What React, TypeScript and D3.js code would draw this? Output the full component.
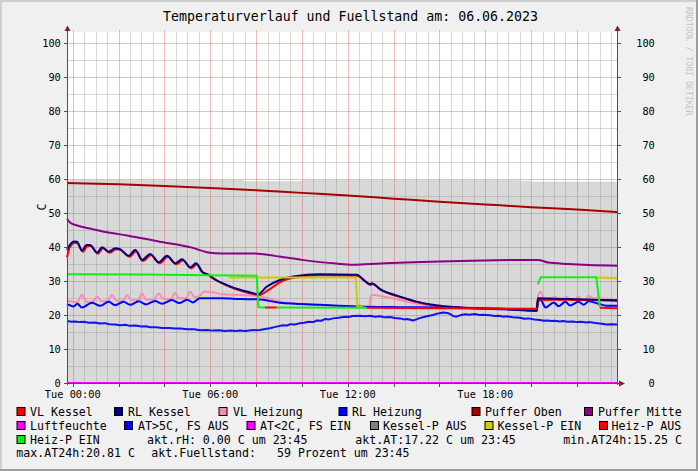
import React, { useEffect } from "react";
import * as d3 from "d3";

type P = [number, number];

const T_START = -0.25;
const T_END = 23.75;
const Y_MAX = 103.2;

const title = "Temperaturverlauf und Fuellstand am: 06.06.2023";
const yAxisLabel = "C";
const watermark = "RRDTOOL / TOBI OETIKER";
const xTickHours = [0, 6, 12, 18];
const xTickLabels = ["Tue 00:00", "Tue 06:00", "Tue 12:00", "Tue 18:00"];
const yTickValues = [0, 10, 20, 30, 40, 50, 60, 70, 80, 90, 100];

const fuellstand: P[] = [
  [-0.25, 59.7], [7.4, 59.7], [7.45, 59.3], [9.6, 59.4], [10.0, 59.7], [16.0, 59.7],
  [19.5, 59.5], [20.0, 59.2], [23.75, 59.2],
];

const pufferOben: P[] = [
  [-0.25, 58.8], [2, 58.4], [4, 57.9], [6, 57.3], [8, 56.7], [10, 55.9], [12, 55.1],
  [14, 54.2], [16, 53.3], [18, 52.5], [20, 51.7], [22, 51.0], [23.75, 50.3],
];

const pufferMitte: P[] = [
  [-0.25, 48.3], [-0.12, 47.2], [0.2, 46.3], [0.84, 45.3], [1.5, 44.3], [2.37, 43.4],
  [3.75, 41.6], [5.2, 39.8], [5.9, 38.4], [6.5, 38.1], [7.9, 38.1], [8.2, 37.9],
  [9.0, 37.2], [10.0, 36.2], [11.5, 35.1], [12.2, 34.8], [13.0, 35.0], [14.5, 35.4],
  [16.0, 35.7], [18.0, 36.0], [20.0, 36.2], [20.3, 36.2], [20.75, 35.4], [21.6, 35.0],
  [22.5, 34.7], [23.75, 34.5],
];

const rlKessel: P[] = [
  [-0.25, 39.1], [-0.1, 40.8], [0.04, 41.6], [0.19, 41.5], [0.4, 38.9], [0.6, 40.6],
  [0.75, 40.6], [1.06, 38.3], [1.28, 39.9], [1.57, 38.6], [1.85, 39.6], [2.05, 39.4],
  [2.44, 37.4], [2.73, 39.1], [3.02, 36.2], [3.38, 37.9], [3.75, 35.5], [4.11, 37.4],
  [4.48, 35.2], [4.77, 36.4], [5.13, 34.0], [5.38, 35.2], [5.64, 32.7], [5.93, 31.8],
  [6.13, 30.8], [6.72, 28.8], [7.3, 27.4], [7.88, 26.4], [8.08, 26.1], [8.46, 28.3],
  [9.04, 30.3], [9.62, 31.3], [10.79, 32.0], [12.39, 31.8], [12.75, 30.0], [12.97, 29.0],
  [13.05, 29.3], [13.41, 27.6], [14.28, 25.4], [15.15, 23.7], [16.03, 22.7], [16.9, 22.2],
  [17.77, 21.9], [18.64, 21.7], [19.52, 21.5], [20.25, 21.3], [20.3, 24.9], [21.0, 24.8],
  [22.0, 24.6], [23.0, 24.4], [23.75, 24.3],
];

const vlKessel: P[] = [
  [-0.25, 37.0], [-0.12, 40.0], [0.08, 41.2], [0.22, 41.0], [0.45, 38.6], [0.65, 40.3],
  [0.8, 40.3], [1.1, 38.0], [1.32, 39.6], [1.62, 38.3], [1.9, 39.3], [2.1, 39.1],
  [2.48, 37.1], [2.77, 38.8], [3.06, 35.9], [3.42, 37.6], [3.79, 35.2], [4.15, 37.1],
  [4.52, 34.9], [4.81, 36.1], [5.17, 33.7], [5.42, 34.9], [5.68, 32.5], [5.97, 31.6],
  [6.17, 30.6], [6.76, 28.6], [7.34, 27.1], [7.92, 26.1], [8.15, 25.9], [8.55, 27.4],
  [9.1, 29.8], [9.7, 31.0], [10.8, 31.7], [12.39, 31.5], [12.78, 29.8], [13.0, 28.8],
  [13.08, 29.1], [13.45, 27.4], [14.32, 25.2], [15.2, 23.5], [16.05, 22.5], [16.9, 22.1],
  [17.8, 21.9], [18.6, 21.8], [19.5, 21.7], [20.25, 21.7], [20.3, 24.5], [21.0, 24.5],
  [22.0, 24.4], [23.0, 24.3], [23.75, 24.2],
];

const vlHeizung: P[] = [
  [-0.25, 24.2], [0.2, 23.8], [0.4, 25.9], [0.6, 23.8], [0.9, 24.0], [1.06, 25.4],
  [1.25, 24.0], [1.55, 24.1], [1.71, 25.9], [1.9, 24.2], [2.2, 24.2], [2.37, 25.9],
  [2.55, 24.3], [2.85, 24.4], [3.02, 26.3], [3.2, 24.5], [3.55, 24.6], [3.75, 26.3],
  [3.95, 24.7], [4.3, 24.8], [4.46, 26.5], [4.65, 24.9], [4.95, 25.0], [5.13, 26.8],
  [5.32, 25.3], [5.55, 25.6], [5.72, 26.9], [6.1, 26.7], [6.51, 26.1], [7.3, 25.9],
  [7.88, 25.7], [8.1, 25.6], [9.04, 23.9], [10.79, 22.9], [12.4, 22.4], [12.95, 22.4],
  [13.0, 25.7], [13.2, 25.9], [13.41, 25.6], [14.28, 24.4], [15.15, 23.2], [16.03, 22.4],
  [16.9, 22.2], [18.64, 22.0], [20.25, 21.8], [20.28, 24.9], [20.42, 26.9], [20.6, 24.1],
  [20.9, 24.3], [21.03, 25.4], [21.2, 24.3], [21.4, 24.3], [21.55, 25.4], [21.72, 24.3],
  [21.9, 24.3], [22.05, 25.4], [22.22, 24.4], [22.4, 24.5], [22.5, 25.6], [22.7, 24.9],
  [22.95, 24.9], [23.75, 23.9],
];

const rlHeizung: P[] = [
  [-0.25, 23.2], [-0.1, 22.8], [0.04, 22.5], [0.2, 23.3], [0.4, 22.2], [0.84, 23.6],
  [1.2, 22.7], [1.57, 23.9], [1.85, 22.9], [2.22, 23.9], [2.5, 23.0], [2.88, 24.0],
  [3.2, 23.1], [3.59, 24.1], [3.9, 23.3], [4.33, 24.4], [4.65, 23.5], [4.99, 24.5],
  [5.25, 23.7], [5.55, 24.9], [6.0, 24.9], [6.51, 24.9], [7.3, 24.7], [8.08, 24.6],
  [9.04, 23.6], [10.79, 23.0], [12.39, 22.5], [14.28, 22.3], [16.03, 22.2], [18.64, 21.8],
  [20.25, 21.2], [20.3, 23.9], [20.42, 24.4], [20.63, 22.2], [20.99, 23.7], [21.2, 22.6],
  [21.5, 23.9], [21.7, 22.8], [22.07, 23.9], [22.3, 23.0], [22.5, 24.0], [22.9, 23.4],
  [23.3, 22.7], [23.75, 22.7],
];

const aussenTemp: P[] = [
  [-0.25, 18.2], [-0.05, 18.0], [0.1, 18.1], [0.32, 17.9], [0.5, 18.0], [0.7, 17.7],
  [0.95, 17.8], [1.19, 17.5], [1.4, 17.6], [1.6, 17.3], [1.85, 17.2], [2.06, 17.0],
  [2.3, 17.1], [2.5, 16.8], [2.75, 16.9], [3.0, 16.6], [3.2, 16.7], [3.37, 16.4],
  [3.65, 16.4], [3.9, 16.2], [4.2, 16.2], [4.46, 16.0], [4.7, 16.0], [5.0, 15.8],
  [5.3, 15.8], [5.55, 15.5], [5.85, 15.6], [6.1, 15.4], [6.4, 15.5], [6.64, 15.3],
  [6.9, 15.4], [7.1, 15.3], [7.3, 15.4], [7.52, 15.3], [7.8, 15.5], [8.17, 15.6],
  [8.4, 15.9], [8.6, 16.1], [8.85, 16.5], [9.17, 17.0], [9.35, 16.9], [9.5, 17.3],
  [9.7, 17.2], [9.92, 17.6], [10.1, 17.7], [10.3, 18.0], [10.5, 17.9], [10.65, 18.4],
  [10.85, 18.3], [11.0, 18.8], [11.2, 18.7], [11.36, 19.0], [11.6, 19.2], [11.88, 19.5],
  [12.05, 19.4], [12.2, 19.7], [12.54, 19.8], [12.75, 19.6], [12.97, 19.8], [13.2, 19.5],
  [13.41, 19.6], [13.6, 19.3], [13.84, 19.4], [14.05, 19.1], [14.28, 19.0], [14.45, 18.7],
  [14.6, 18.8], [14.85, 18.4], [15.0, 18.7], [15.1, 19.0], [15.37, 19.5], [15.55, 19.8],
  [15.72, 20.0], [15.9, 20.4], [16.0, 20.5], [16.16, 20.7], [16.35, 20.6], [16.46, 20.3],
  [16.6, 19.7], [16.75, 19.5], [16.9, 19.9], [17.12, 20.2], [17.3, 20.1], [17.55, 20.3],
  [17.75, 20.0], [17.9, 20.1], [18.21, 19.9], [18.4, 19.7], [18.6, 19.8], [18.8, 19.5],
  [18.94, 19.6], [19.2, 19.3], [19.52, 19.2], [19.7, 18.9], [19.9, 19.0], [20.15, 18.7],
  [20.39, 18.5], [20.55, 18.3], [20.7, 18.4], [20.9, 18.2], [21.04, 18.3], [21.25, 18.1],
  [21.4, 18.2], [21.6, 18.0], [21.83, 18.1], [22.0, 17.9], [22.2, 18.0], [22.4, 17.8],
  [22.57, 17.9], [22.75, 17.7], [22.9, 17.6], [23.1, 17.4], [23.3, 17.2], [23.5, 17.3],
  [23.75, 17.2],
];

const luftfeuchte: P[] = [[-0.25, 0], [23.75, 0]];

const kesselPEin: P[][] = [
  [[6.8, 31.0], [12.35, 31.0], [12.42, 22.4], [12.7, 22.3]],
  [[22.85, 31.0], [23.75, 30.9]],
];

const heizPEin: P[][] = [
  [[-0.25, 32.0], [3, 31.9], [6, 31.7], [8.03, 31.5], [8.1, 22.3], [8.39, 22.2]],
  [[8.9, 22.2], [12.83, 22.1]],
  [[20.29, 29.0], [20.42, 31.1], [22.85, 31.1], [23.0, 22.3]],
];

const heizPAus: P[][] = [
  [[8.39, 22.2], [8.9, 22.2]],
  [[12.83, 22.1], [16.0, 22.0], [20.27, 21.8]],
  [[23.0, 22.1], [23.75, 22.0]],
];

const legendRow1 = ["VL Kessel", "RL Kessel", "VL Heizung", "RL Heizung", "Puffer Oben", "Puffer Mitte"];
const legendRow1Colors = ["#ff0000", "#000080", "#fa8cac", "#0000ff", "#a80000", "#880088"];
const legendRow1Box = [16.5, 114, 218.5, 338.5, 471.5, 584];
const legendRow1Text = [30, 128, 233, 352, 485, 598];

const legendRow2 = ["Luftfeuchte", "AT>5C, FS AUS", "AT<2C, FS EIN", "Kessel-P AUS", "Kessel-P EIN", "Heiz-P AUS"];
const legendRow2Colors = ["#ff00ff", "#0000ff", "#ff00ff", "#808080", "#cccc00", "#ff0000"];
const legendRow2Box = [16.5, 124, 246.5, 370, 484.5, 599];
const legendRow2Text = [30, 138, 260, 383, 497.5, 611.5];

const legendRow3Label = "Heiz-P EIN";
const legendRow3Color = "#10f010";
const infoRow3 = ["akt.rH: 0.00 C um 23:45", "akt.AT:17.22 C um 23:45", "min.AT24h:15.25 C"];
const infoRow3X = [147, 355.3, 563.3];
const infoRow4 = ["max.AT24h:20.81 C", "akt.Fuellstand:   59 Prozent um 23:45"];
const infoRow4X = [16.3, 151.3];

const MONO = "'DejaVu Sans Mono', monospace";

export default function App() {
  useEffect(() => {
    document.body.style.margin = "0";
  }, []);

  const W = 698;
  const H = 471;
  const x = d3.scaleLinear().domain([T_START, T_END]).range([67, 617]);
  const y = d3.scaleLinear().domain([0, Y_MAX]).range([383, 32]);

  const smooth = d3.line<P>().x((d) => x(d[0])).y((d) => y(d[1])).curve(d3.curveMonotoneX);
  const straight = d3.line<P>().x((d) => x(d[0])).y((d) => y(d[1]));
  const area = d3
    .area<P>()
    .x((d) => x(d[0]))
    .y0(y(0))
    .y1((d) => y(d[1]))
    .curve(d3.curveStepAfter);

  const yMinor = d3.range(5, 101, 10);
  const xMinor = d3.range(0, T_END, 0.5).filter((h) => h % 2 !== 0);
  const xMajor = d3.range(0, T_END, 2);

  const px = (v: number) => Math.round(v) + 0.5;

  const gridMinor = "rgba(143,143,143,0.35)";
  const gridMajor = "rgba(222,80,80,0.38)";
  const arrow = "#801f1f";
  const axis = "#505050";

  const lineProps = { fill: "none", strokeWidth: 2, strokeLinejoin: "round" as const, strokeLinecap: "butt" as const };

  return (
    <svg
      width={W}
      height={H}
      style={{ position: "absolute", left: 0, top: 0, display: "block" }}
      fontFamily={MONO}
    >
      <rect x={0} y={0} width={W} height={H} fill="#f0f0f0" />
      <rect x={0} y={0} width={W} height={2} fill="#cfcfcf" />
      <rect x={0} y={0} width={2} height={H} fill="#cfcfcf" />
      <rect x={0} y={H - 2} width={W} height={2} fill="#9e9e9e" />
      <rect x={W - 2} y={0} width={2} height={H} fill="#9e9e9e" />

      <text x={350.5} y={21} textAnchor="middle" fontSize={13.25} fill="#000">
        {title}
      </text>

      <text transform="translate(685.5,7) rotate(90)" fontSize={8.2} fill="#c4c4c4">
        {watermark}
      </text>

      <rect x={67} y={32} width={550} height={351} fill="#ffffff" />
      <path d={area(fuellstand) || ""} fill="#d8d8d8" />

      {yMinor.map((v) => (
        <line key={"ym" + v} x1={67} x2={617} y1={px(y(v))} y2={px(y(v))} stroke={gridMinor} />
      ))}
      {xMinor.map((h) => (
        <line key={"xm" + h} x1={px(x(h))} x2={px(x(h))} y1={32} y2={383} stroke={gridMinor} />
      ))}
      {yTickValues.map((v) => (
        <line key={"yM" + v} x1={64} x2={620} y1={px(y(v))} y2={px(y(v))} stroke={gridMajor} />
      ))}
      {xMajor.map((h) => (
        <line key={"xM" + h} x1={px(x(h))} x2={px(x(h))} y1={30} y2={386} stroke={gridMajor} />
      ))}

      <path d={smooth(pufferOben) || ""} stroke="#a80000" {...lineProps} />
      <path d={smooth(pufferMitte) || ""} stroke="#880088" {...lineProps} />
      <path d={straight(aussenTemp) || ""} stroke="#1212f0" {...lineProps} />
      <path d={smooth(vlHeizung) || ""} stroke="#fa8cac" {...lineProps} />
      <path d={smooth(rlHeizung) || ""} stroke="#0000ff" {...lineProps} />
      <path d={smooth(vlKessel) || ""} stroke="#ff0000" {...lineProps} />
      <path d={smooth(rlKessel) || ""} stroke="#000080" {...lineProps} />
      {kesselPEin.map((s, i) => (
        <path key={"kp" + i} d={straight(s) || ""} stroke="#cccc00" {...lineProps} />
      ))}
      {heizPEin.map((s, i) => (
        <path key={"hpe" + i} d={straight(s) || ""} stroke="#10f010" {...lineProps} />
      ))}
      {heizPAus.map((s, i) => (
        <path key={"hpa" + i} d={straight(s) || ""} stroke="#ff0000" {...lineProps} />
      ))}
      <path d={straight(luftfeuchte) || ""} stroke="#ff00ff" strokeWidth={2.2} fill="none" />

      <line x1={67.5} x2={67.5} y1={28} y2={385} stroke={axis} strokeWidth={1} />
      <line x1={617.5} x2={617.5} y1={28} y2={385} stroke={axis} strokeWidth={1} />
      <line x1={64} x2={620} y1={383.5} y2={383.5} stroke={axis} strokeWidth={1} />
      <path d="M64.5,31 L67.5,25.5 L70.5,31 Z" fill={arrow} />
      <path d="M614.5,31 L617.5,25.5 L620.5,31 Z" fill={arrow} />
      <path d="M619,380.5 L625,383.5 L619,386.5 Z" fill={arrow} />
      {yTickValues.map((v) => (
        <g key={"yt" + v}>
          <line x1={64} x2={67} y1={px(y(v))} y2={px(y(v))} stroke={axis} />
          <line x1={618} x2={621} y1={px(y(v))} y2={px(y(v))} stroke={axis} />
        </g>
      ))}
      {xMajor.map((h) => (
        <line key={"xt" + h} x1={px(x(h))} x2={px(x(h))} y1={384} y2={387} stroke={axis} />
      ))}

      {yTickValues.map((v) => (
        <g key={"yl" + v} fontSize={10.3} fill="#000">
          <text x={60.8} y={y(v)} dy="0.36em" textAnchor="end">
            {v}
          </text>
          <text x={654.8} y={y(v)} dy="0.36em" textAnchor="end">
            {v}
          </text>
        </g>
      ))}
      {xTickHours.map((h, i) => (
        <text key={"xl" + h} x={x(h)} y={397.5} textAnchor="middle" fontSize={10.3} fill="#000">
          {xTickLabels[i]}
        </text>
      ))}

      <text transform="translate(46,207) rotate(-90)" textAnchor="middle" fontSize={11.6} fill="#000">
        {yAxisLabel}
      </text>

      <g fontSize={11.6} fill="#000" style={{ whiteSpace: "pre" }}>
        {legendRow1.map((t, i) => (
          <g key={"l1" + i}>
            <rect x={legendRow1Box[i] + 0.5} y={407.5} width={8} height={8} fill={legendRow1Colors[i]} stroke="#000" />
            <text x={legendRow1Text[i]} y={415.5}>{t}</text>
          </g>
        ))}
        {legendRow2.map((t, i) => (
          <g key={"l2" + i}>
            <rect x={legendRow2Box[i] + 0.5} y={421.5} width={8} height={8} fill={legendRow2Colors[i]} stroke="#000" />
            <text x={legendRow2Text[i]} y={429.5}>{t}</text>
          </g>
        ))}
        <rect x={17} y={435.5} width={8} height={8} fill={legendRow3Color} stroke="#000" />
        <text x={30} y={443.5}>{legendRow3Label}</text>
        {infoRow3.map((t, i) => (
          <text key={"i3" + i} x={infoRow3X[i]} y={443.5}>{t}</text>
        ))}
        {infoRow4.map((t, i) => (
          <text key={"i4" + i} x={infoRow4X[i]} y={457} xmlSpace="preserve">{t}</text>
        ))}
      </g>
    </svg>
  );
}
